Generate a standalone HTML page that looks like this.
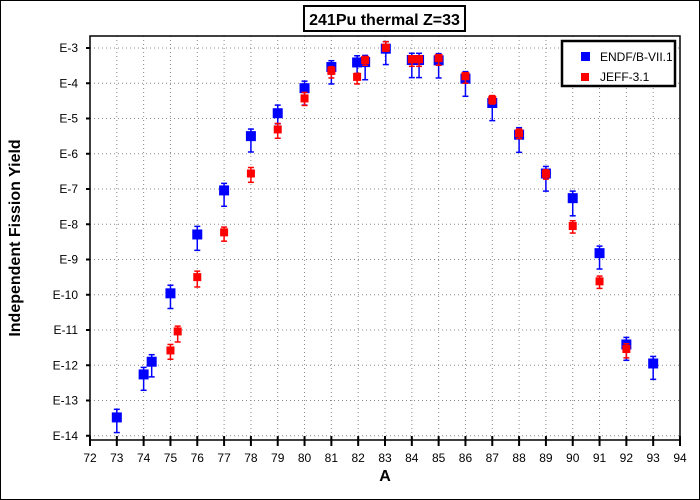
<!DOCTYPE html>
<html><head><meta charset="utf-8"><style>
body{margin:0;background:#fff}
svg{display:block;font-family:"Liberation Sans",sans-serif}
</style></head><body>
<svg id="chart" width="700" height="500" viewBox="0 0 700 500">
<rect x="0.5" y="0.5" width="699" height="499" fill="#fff" stroke="#000"/>
<g>
<rect x="304" y="6" width="161" height="25" fill="#fff" stroke="#000" stroke-width="2"/>
<text x="384.5" y="25" text-anchor="middle" font-size="16" font-weight="bold">241Pu thermal Z=33</text>
</g>
<g id="grid"></g>
<rect x="90" y="36" width="590" height="404" fill="none" stroke="#000" stroke-width="1.5"/>
<g id="xaxis"></g>
<g id="yaxis"></g>
<text x="385" y="481" text-anchor="middle" font-size="16" font-weight="bold">A</text>
<text transform="translate(20,238) rotate(-90)" text-anchor="middle" font-size="16" font-weight="bold">Independent Fission Yield</text>
<g id="series"></g>
<g>
<rect x="562" y="41" width="113" height="45" fill="#fff" stroke="#000" stroke-width="2.5"/>
<g><rect x="581" y="52" width="9" height="9" fill="#0000ff"/><text x="600" y="61" font-size="12">ENDF/B-VII.1</text></g>
<g><rect x="581" y="73" width="8" height="8" fill="#ff0000"/><text x="600" y="81" font-size="12">JEFF-3.1</text></g>
</g>
</svg>
<script>
const xTicks=[72,73,74,75,76,77,78,79,80,81,82,83,84,85,86,87,88,89,90,91,92,93,94];
const yTickExps=[-3,-4,-5,-6,-7,-8,-9,-10,-11,-12,-13,-14];
const yTickLabels=["E-3","E-4","E-5","E-6","E-7","E-8","E-9","E-10","E-11","E-12","E-13","E-14"];
const endfA=[73,74,74.3,75,76,77,78,79,80,81,81.96,82.26,83.03,84,84.27,85,86,87,88,89,90,91,92,93];
const endfLog=[-13.48,-12.26,-11.9,-9.96,-8.29,-7.04,-5.5,-4.85,-4.14,-3.54,-3.41,-3.4,-3.02,-3.34,-3.34,-3.35,-3.87,-4.56,-5.46,-6.56,-7.26,-8.82,-11.41,-11.95];
const endfErrUp=[0.23,0.2,0.2,0.23,0.23,0.2,0.2,0.23,0.2,0.18,0.19,0.19,0.2,0.19,0.19,0.19,0.2,0.2,0.2,0.2,0.2,0.2,0.2,0.2];
const endfErrDn=[0.43,0.45,0.43,0.43,0.45,0.45,0.45,0.3,0.48,0.48,0.35,0.5,0.45,0.5,0.5,0.5,0.5,0.5,0.5,0.5,0.5,0.45,0.45,0.45];
const jeffA=[75,75.27,76,77,78,79,80,81,81.96,82.26,83.03,84,84.27,85,86,87,88,89,90,91,92];
const jeffLog=[-11.58,-11.04,-9.5,-8.23,-6.56,-5.31,-4.43,-3.65,-3.82,-3.34,-2.99,-3.32,-3.32,-3.29,-3.8,-4.47,-5.42,-6.57,-8.05,-9.62,-11.54];
const jeffErrUp=[0.17,0.15,0.17,0.15,0.17,0.17,0.17,0.12,0.1,0.1,0.17,0.1,0.1,0.1,0.1,0.12,0.12,0.12,0.15,0.15,0.15];
const jeffErrDn=[0.25,0.3,0.28,0.25,0.25,0.25,0.2,0.2,0.2,0.15,0.1,0.2,0.2,0.2,0.2,0.12,0.15,0.15,0.2,0.2,0.25];

const NS="http://www.w3.org/2000/svg";
const X0=90,X1=680,Y0=36,Y1=440;
function sx(a){return X0+(a-72)/(94-72)*(X1-X0);}
function sy(l){return 48+(-3-l)*35.25;}
function mk(tag,attrs,parent){const e=document.createElementNS(NS,tag);for(const k in attrs)e.setAttribute(k,attrs[k]);parent.appendChild(e);return e;}
const grid=document.getElementById('grid'),xa=document.getElementById('xaxis'),ya=document.getElementById('yaxis'),ser=document.getElementById('series');
xTicks.forEach(t=>{
  const x=sx(t);
  if(t>72&&t<94){const g=mk('line',{x1:x,x2:x,y1:Y0,y2:Y1,stroke:'#888','stroke-dasharray':'1,3'},grid);
  
  }
  const tk=mk('line',{x1:x,x2:x,y1:Y1-4,y2:Y1+6,stroke:'#000','stroke-width':2},xa);
  
  
  const lb=mk('text',{x:x,y:Y1+22,'text-anchor':'middle','font-size':12},xa);
  lb.textContent=t;
  
  
});
yTickExps.forEach((e,i)=>{
  const y=sy(e);
  const g=mk('line',{x1:X0,x2:X1,y1:y,y2:y,stroke:'#888','stroke-dasharray':'1,3'},grid);
  
  
  const tk=mk('line',{x1:X0-4,x2:X0,y1:y,y2:y,stroke:'#000','stroke-width':2},ya);
  
  
  const lb=mk('text',{x:X0-12,y:y+4,'text-anchor':'end','font-size':12},ya);
  lb.textContent=yTickLabels[i];
  
  
});
function drawSeries(A,L,U,D,color,size,name){
  const g=mk('g',{},ser);
  
  
  A.forEach((a,i)=>{
    const x=sx(a),y=sy(L[i]),yt=sy(L[i]+U[i]),yb=sy(L[i]-D[i]);
    const p=mk('g',{},g);
    
    
    mk('line',{x1:x,x2:x,y1:yt,y2:yb,stroke:color,'stroke-width':1.5},p);
    mk('line',{x1:x-3,x2:x+3,y1:yt,y2:yt,stroke:color,'stroke-width':1.5},p);
    mk('line',{x1:x-3,x2:x+3,y1:yb,y2:yb,stroke:color,'stroke-width':1.5},p);
    mk('rect',{x:x-size/2,y:y-size/2,width:size,height:size,fill:color},p);
  });
}
drawSeries(endfA,endfLog,endfErrUp,endfErrDn,'#0000ff',10,'endf');
drawSeries(jeffA,jeffLog,jeffErrUp,jeffErrDn,'#ff0000',8,'jeff');
</script>
</body></html>
